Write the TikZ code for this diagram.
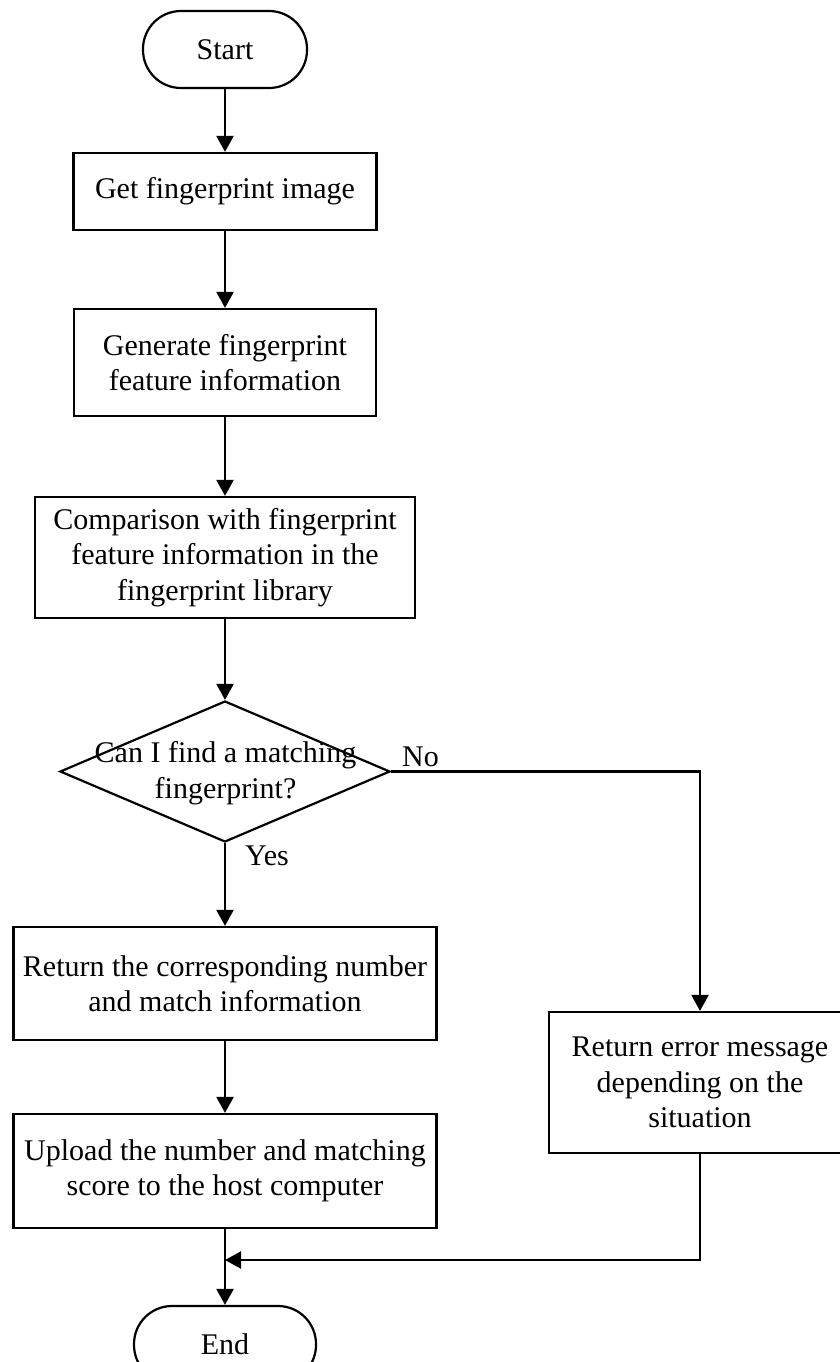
\documentclass[tikz,border=0pt]{standalone}
\usepackage{fontspec}
\setmainfont{Liberation Serif}
\usetikzlibrary{arrows.meta,shapes.geometric}

\begin{document}
\begin{tikzpicture}[x=1pt,y=-1pt,
  line width=2.2pt,
  every node/.style={font=\fontsize{30}{35.5}\selectfont},
  procbox/.style={draw, rectangle, align=center, inner sep=0pt},
  terminal/.style={draw, rectangle, rounded corners=38pt, inner sep=0pt,
                   minimum height=77pt},
  decision/.style={draw, diamond, inner sep=0pt, minimum width=330pt,
                   minimum height=141pt},
  flow/.style={-{Triangle[length=16pt,width=17pt]}},
  branch/.style={anchor=base west, inner sep=0pt}]

  \useasboundingbox (0,0) rectangle (840,1362);

  % main column
  \node[terminal, minimum width=164pt] (start) at (225,49.5) {Start};
  \node[procbox, minimum width=303pt, minimum height=77pt] (get) at (225,191.5)
    {Get fingerprint image};
  \node[procbox, minimum width=302pt, minimum height=107pt] (gen) at (225,362.5)
    {Generate fingerprint\\feature information};
  \node[procbox, minimum width=380pt, minimum height=121pt] (cmp) at (225,557.5)
    {Comparison with fingerprint\\feature information in the\\fingerprint library};
  \node[decision] (dec) at (225,771.5) {};
  \node[align=center, inner sep=0pt] (dectext) at (225.5,773)
    {Can I find a matching\\fingerprint?};
  \node[procbox, minimum width=423pt, minimum height=113pt] (ret) at (225,983.5)
    {Return the corresponding number\\and match information};
  \node[procbox, minimum width=423pt, minimum height=114pt] (up) at (225,1171)
    {Upload the number and matching\\score to the host computer};
  \node[terminal, minimum width=182pt] (end) at (225,1344.5) {End};

  % error branch
  \node[procbox, minimum width=302pt, minimum height=141pt] (err) at (700,1082.5)
    {Return error message\\depending on the\\situation};

  % branch labels
  \node[branch] (no) at (401,766) {No};
  \node[branch] (yes) at (244,865) {Yes};

  \coordinate (turn) at (700,771.5);
  \coordinate (merge) at (225,1260);

  % connectors
  \draw[flow] (start) -- (get);
  \draw[flow] (get) -- (gen);
  \draw[flow] (gen) -- (cmp);
  \draw[flow] (cmp) -- (dec);
  \draw[flow] (dec.south) -- (ret);
  \draw[flow] (ret) -- (up);
  \draw[flow] (up) -- (end);
  \draw[flow] (dec.east) -- (turn) -- (err.north);
  \draw[flow] (err.south) |- (merge);
\end{tikzpicture}
\end{document}
